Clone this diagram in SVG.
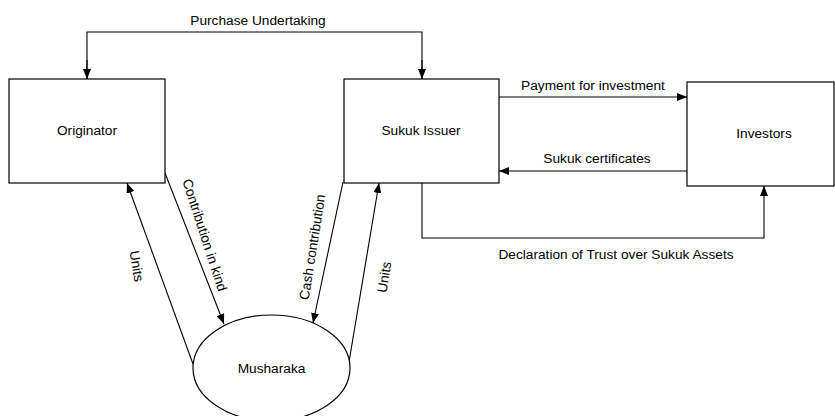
<svg xmlns="http://www.w3.org/2000/svg" width="835" height="416" viewBox="0 0 835 416">
<defs>
<marker id="ah" viewBox="0 0 10 8" refX="10" refY="4" markerWidth="10" markerHeight="8" markerUnits="userSpaceOnUse" orient="auto">
<path d="M0,0 L10,4 L0,8 Z" fill="#000"/>
</marker>
</defs>
<style>
.box{fill:#fff;stroke:#000;stroke-width:1.2}
.ln{fill:none;stroke:#000;stroke-width:1.1;marker-end:url(#ah)}
text{font-family:"Liberation Sans",Arial,sans-serif;font-size:13.7px;fill:#000}
.c{text-anchor:middle}
</style>
<rect width="835" height="416" fill="#fff"/>
<g id="connectors">
<polyline class="ln" points="422,79 422,32 87,32 87,79" style="marker-end:none"/>
<line class="ln" x1="87" y1="60" x2="87" y2="79"/>
<line class="ln" x1="422" y1="60" x2="422" y2="79"/>
<line class="ln" x1="499" y1="97" x2="687" y2="97"/>
<line class="ln" x1="687" y1="171" x2="499" y2="171"/>
<polyline class="ln" points="422,183 422,238 764,238 764,186"/>
<line class="ln" x1="193" y1="364" x2="127" y2="183"/>
<line class="ln" x1="165" y1="173" x2="224" y2="324"/>
<line class="ln" x1="343" y1="182" x2="313" y2="323"/>
<line class="ln" x1="349" y1="362" x2="379" y2="183"/>
<text class="c" x="258" y="25">Purchase Undertaking</text>
<text class="c" x="593" y="90">Payment for investment</text>
<text class="c" x="597" y="163">Sukuk certificates</text>
<text class="c" x="616" y="259">Declaration of Trust over Sukuk Assets</text>
<text class="c" transform="translate(137,266) rotate(81)" y="5">Units</text>
<text class="c" transform="translate(205,235) rotate(72)" y="5">Contribution in kind</text>
<text class="c" transform="translate(312,247) rotate(-81)" y="5">Cash contribution</text>
<text class="c" transform="translate(384,277) rotate(-81)" y="5">Units</text>
</g>
<g id="originator">
<rect class="box" x="9" y="79" width="156" height="104"/>
<text class="c" x="87" y="135">Originator</text>
</g>
<g id="sukuk-issuer">
<rect class="box" x="344" y="79" width="155" height="104"/>
<text class="c" x="421" y="135">Sukuk Issuer</text>
</g>
<g id="investors">
<rect class="box" x="687" y="82" width="147" height="104"/>
<text class="c" x="764" y="138">Investors</text>
</g>
<g id="musharaka">
<ellipse class="box" cx="271.5" cy="368" rx="78.5" ry="53"/>
<text class="c" x="271.5" y="372.5">Musharaka</text>
</g>
</svg>
